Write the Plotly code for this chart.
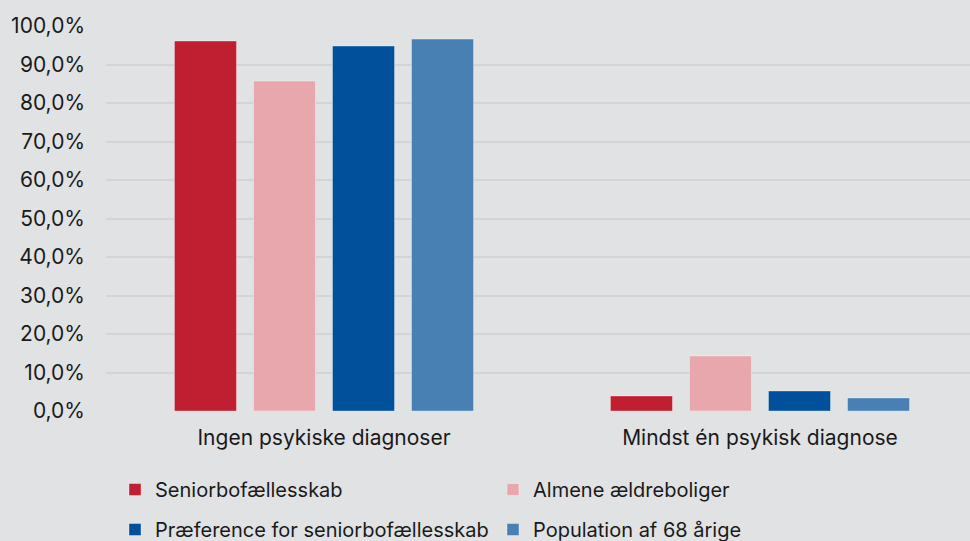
import plotly.graph_objects as go

categories = ["Ingen psykiske diagnoser", "Mindst én psykisk diagnose"]
series_names = ["Seniorbofællesskab", "Almene ældreboliger",
                "Præference for seniorbofællesskab", "Population af 68 årige"]
seniorbo = [96.1, 3.9]
almene = [85.7, 14.3]
praeference = [94.8, 5.2]
population = [96.6, 3.4]
y_tickvals = [0, 10, 20, 30, 40, 50, 60, 70, 80, 90, 100]
y_ticktext = ["0,0%", "10,0%", "20,0%", "30,0%", "40,0%", "50,0%",
              "60,0%", "70,0%", "80,0%", "90,0%", "100,0%"]

colors = ["#C01F32", "#E8A7AD", "#00509B", "#4880B4"]
values = [seniorbo, almene, praeference, population]
legends = ["legend", "legend", "legend2", "legend2"]

FONT = "Inter"
TXT = "#1a1a1a"
fig = go.Figure()
for name, vals, col, lg in zip(series_names, values, colors, legends):
    fig.add_trace(go.Bar(
        x=categories, y=vals, name=name, legend=lg,
        marker=dict(color=col, line=dict(color="rgba(255,255,255,0.35)", width=1)),
        hovertemplate="%{y:.1f}%<extra>" + name + "</extra>",
    ))

BG = "#E1E2E4"
legend_common = dict(orientation="h", xref="container", yref="container",
                     xanchor="left", yanchor="top",
                     entrywidth=333, entrywidthmode="pixels",
                     font=dict(family=FONT, size=20, color=TXT),
                     bgcolor="rgba(0,0,0,0)", traceorder="normal")
fig.update_layout(
    width=970, height=541,
    paper_bgcolor=BG, plot_bgcolor=BG,
    margin=dict(l=106, r=0, t=26, b=130),
    barmode="group", bargap=0.275, bargroupgap=0.215,
    font=dict(family=FONT, size=21, color=TXT),
    xaxis=dict(range=[-0.5, 1.4817], showgrid=False, zeroline=False,
               showline=False, ticks="", tickfont=dict(size=21, color=TXT),
               ticklabelstandoff=12),
    yaxis=dict(range=[0, 100], tickvals=y_tickvals, ticktext=y_ticktext,
               showgrid=True, gridcolor="#D3D4D6", gridwidth=2,
               zeroline=False, showline=False, ticks="",
               tickfont=dict(size=21, color=TXT), ticklabelstandoff=20),
    legend=dict(x=115/970, y=1-(470/541), **legend_common),
    legend2=dict(x=115/970, y=1-(510/541), **legend_common),
)

fig.write_html("out.html", config={"displayModeBar": False},
               post_script="document.body.style.margin='0';document.body.style.background='#E1E2E4';")
